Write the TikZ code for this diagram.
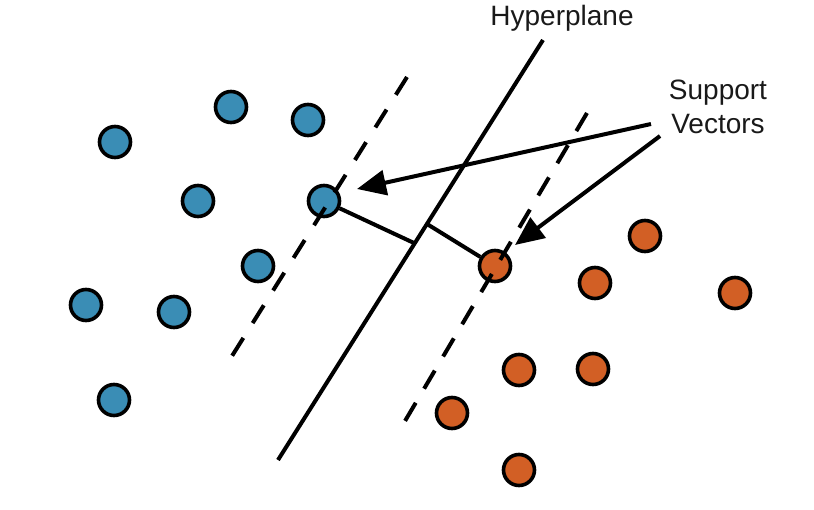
\documentclass[tikz,border=0pt]{standalone}
\usepackage{fontspec}
\setmainfont{Liberation Sans}
\usetikzlibrary{arrows.meta}
\definecolor{svmblue}{RGB}{58,141,181}
\definecolor{svmorange}{RGB}{210,95,37}
\begin{document}
\begin{tikzpicture}[x=1pt,y=-1pt,
  pt/.style={circle,draw=black,line width=3.6pt,minimum size=31pt,inner sep=0pt},
  bluept/.style={pt,fill=svmblue},
  orpt/.style={pt,fill=svmorange},
  solidline/.style={line width=4pt},
  marginline/.style={line width=4pt},
  arrowline/.style={line width=4pt,-{Triangle[length=29pt,width=25pt]}},
  lbl/.style={font=\fontsize{28}{34}\selectfont,align=center,inner sep=0pt,text=black!90}]
\useasboundingbox (0,0) rectangle (814,510);
% blue points
\node[bluept] (b1) at (231,107) {};
\node[bluept] (b2) at (308,120) {};
\node[bluept] (b3) at (115,142) {};
\node[bluept] (b4) at (198,201) {};
\node[bluept] (bsv) at (324,201) {};
\node[bluept] (b6) at (258,266) {};
\node[bluept] (b7) at (86,305) {};
\node[bluept] (b8) at (174,312) {};
\node[bluept] (b9) at (114,400) {};
% orange points
\node[orpt] (o1) at (645,236) {};
\node[orpt] (osv) at (495,266) {};
\node[orpt] (o3) at (595,283) {};
\node[orpt] (o4) at (735,293) {};
\node[orpt] (o5) at (519,370) {};
\node[orpt] (o6) at (593,369) {};
\node[orpt] (o7) at (452,413) {};
\node[orpt] (o8) at (519,470) {};
% hyperplane and margins
\coordinate (h1) at (543,40);
\coordinate (h2) at (278,460);
\draw[solidline] (h1) -- (h2);
\coordinate (ml1) at (407,77);
\coordinate (ml2) at (232,356);
\draw[marginline,dash pattern=on 21pt off 17.5pt] (ml1) -- (ml2);
\coordinate (mr1) at (587,113);
\coordinate (mr2) at (405,421);
\draw[marginline,dash pattern=on 21pt off 16.4pt] (mr1) -- (mr2);
% perpendiculars
\coordinate (pl) at (414,243);
\coordinate (pr) at (427,224);
\draw[solidline] (bsv) -- (pl);
\draw[solidline] (pr) -- (osv);
% labels
\node[lbl] (hyp) at (562,18) {Hyperplane};
\node[lbl] (sv) at (718,107) {Support\\Vectors};
\coordinate (a1s) at (651,124);
\coordinate (a1e) at (357,189);
\coordinate (a2s) at (660,136);
\coordinate (a2e) at (515,245);
\draw[arrowline] (a1s) -- (a1e);
\draw[arrowline] (a2s) -- (a2e);
\end{tikzpicture}
\end{document}
